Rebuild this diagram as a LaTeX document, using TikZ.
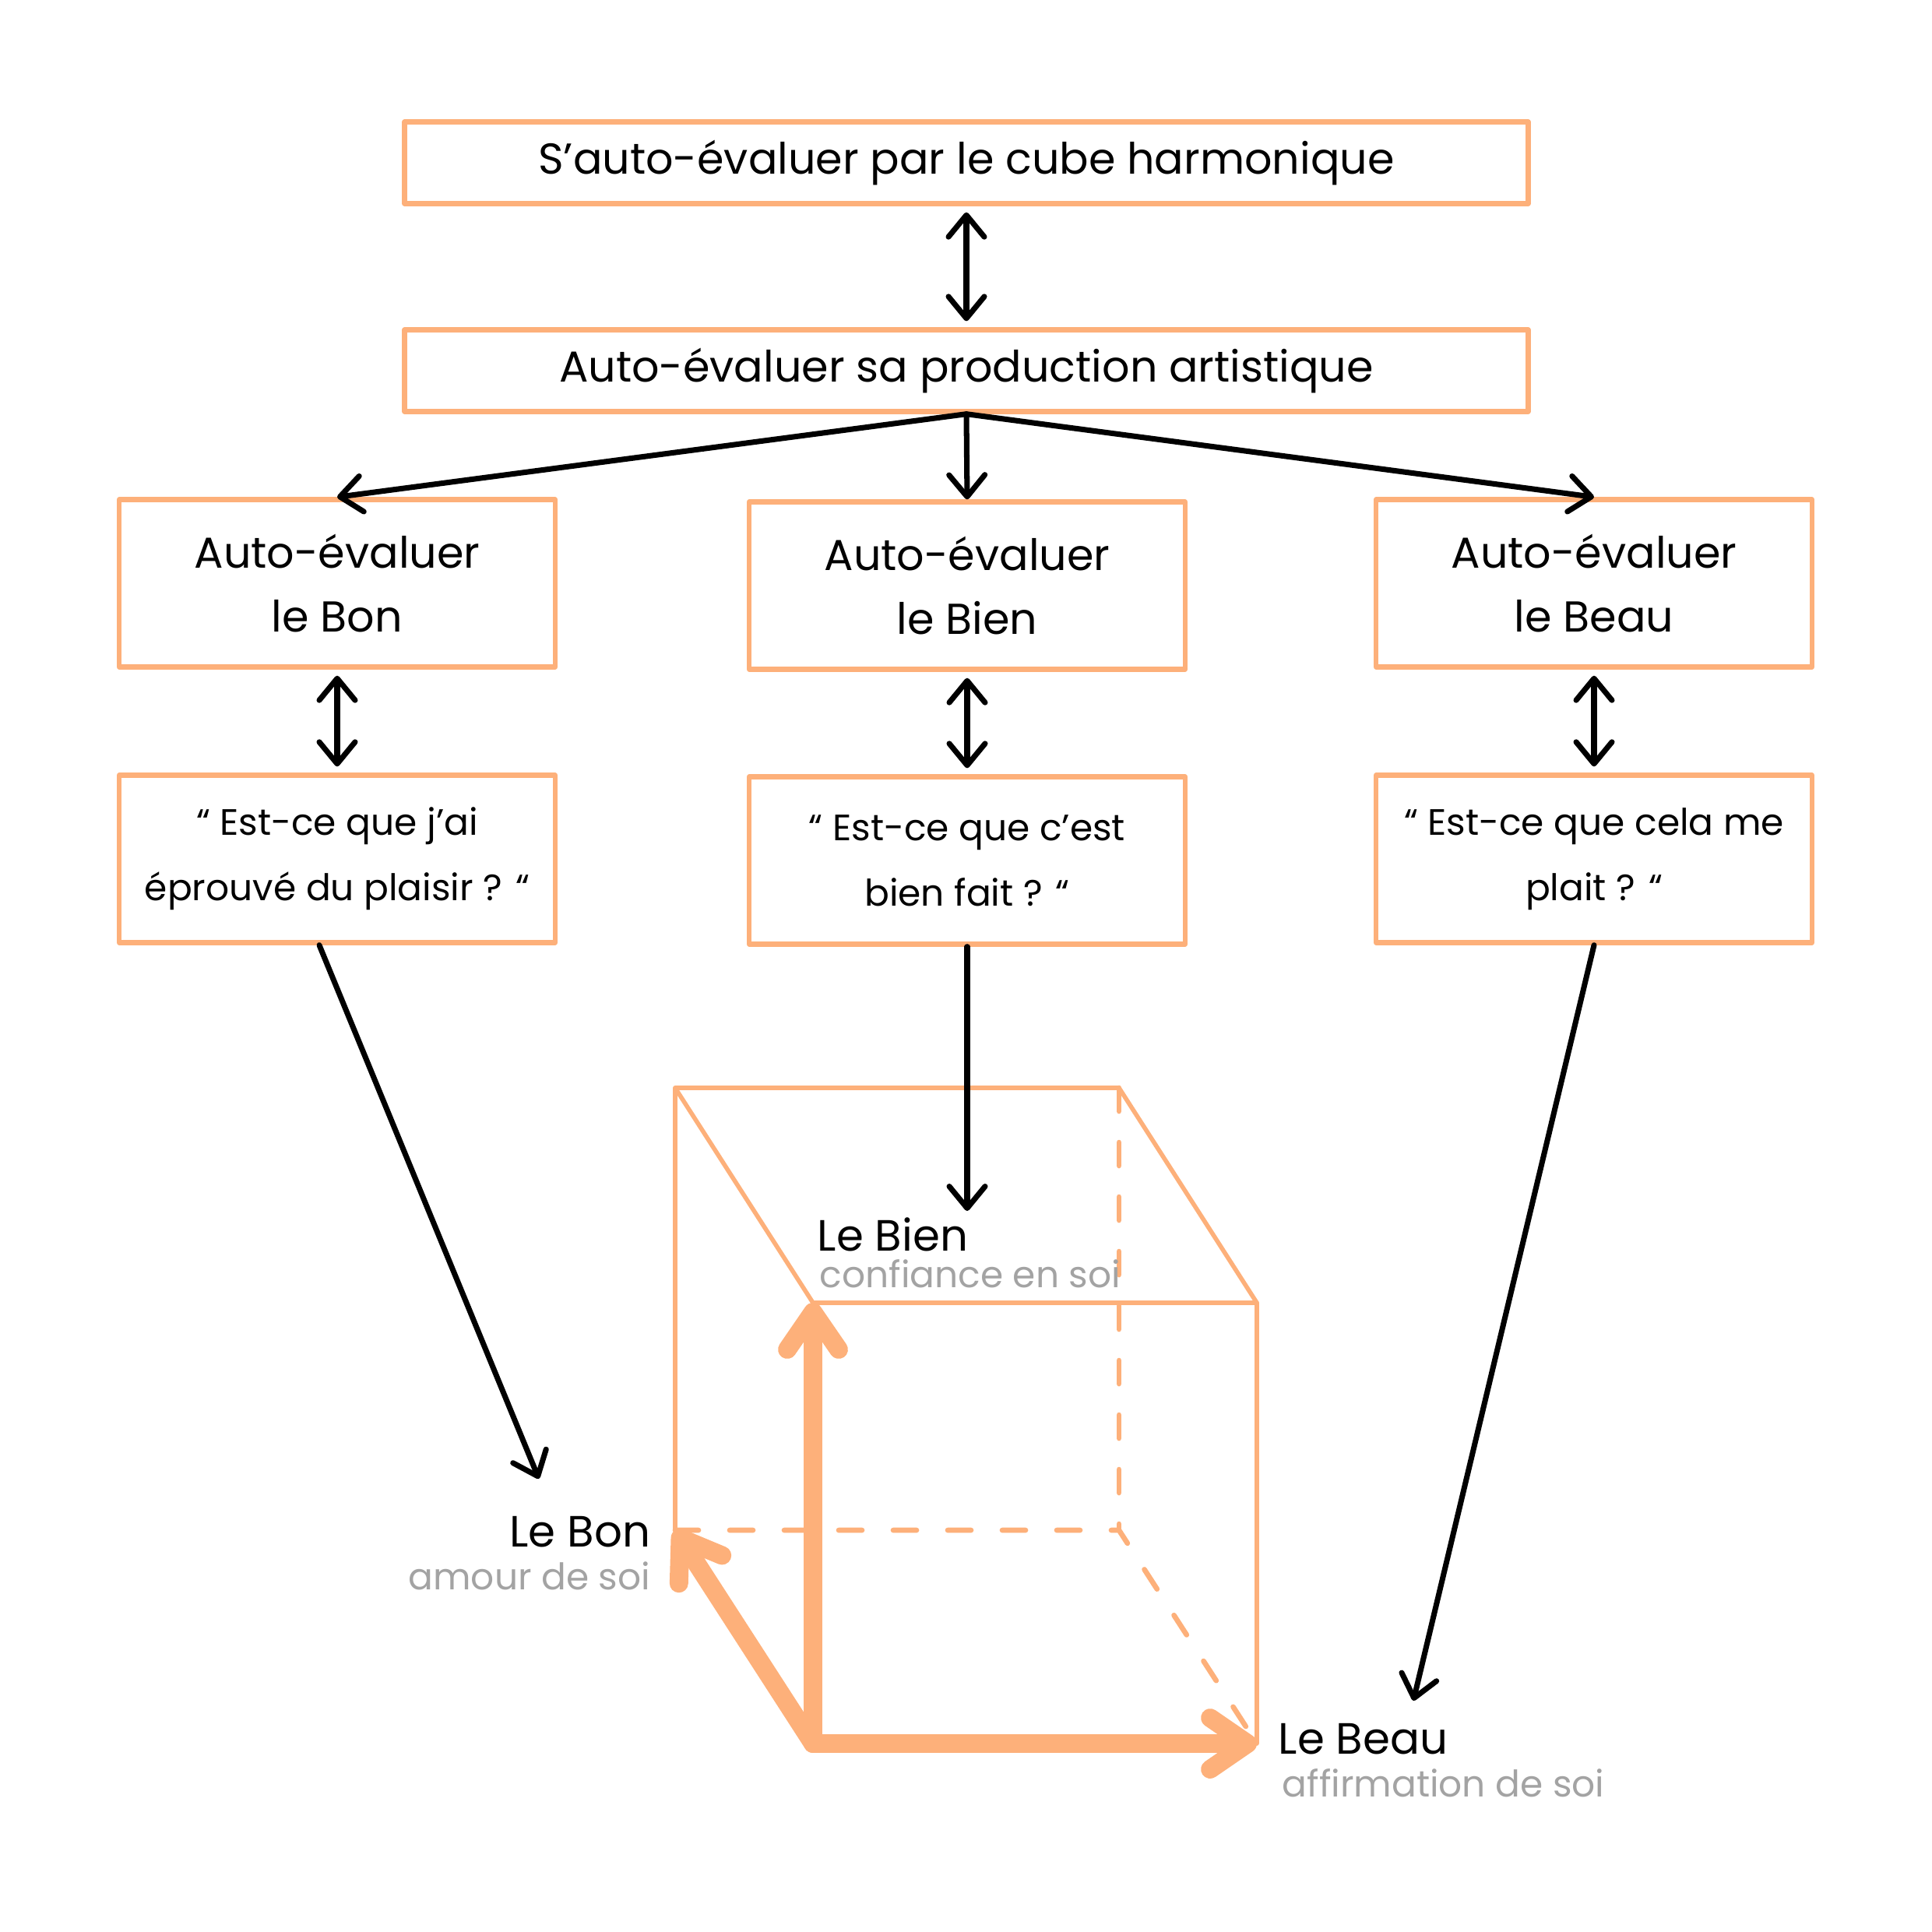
\documentclass[tikz,border=0pt]{standalone}
\usepackage{fontspec}
\setmainfont{Poppins}
\usetikzlibrary{positioning,arrows.meta}
\definecolor{peach}{HTML}{FDB07A}
\definecolor{softgray}{HTML}{A3A3A3}

\begin{document}
\begin{tikzpicture}[line cap=round, line join=round,
        widebox/.style={draw=peach, line width=1.8pt, minimum width=14.43cm, minimum height=1.05cm,
            font=\fontsize{15.8}{19}\selectfont},
        colbox/.style={draw=peach, line width=1.8pt, minimum width=5.6cm, minimum height=2.15cm,
            align=center, font=\fontsize{15.8}{23.4}\selectfont},
        qbox/.style={draw=peach, line width=1.8pt, minimum width=5.6cm, minimum height=2.15cm,
            align=center, font=\fontsize{13.4}{23.8}\selectfont},
        link/.style={line width=2pt, -{Straight Barb[length=2.8mm, width=4.6mm, round]}},
        twoway/.style={line width=2pt, {Straight Barb[length=2.8mm, width=4.6mm, round]}-{Straight Barb[length=2.8mm, width=4.6mm, round]},
            shorten <=0.08cm, shorten >=0.08cm},
        edgeline/.style={draw=peach, line width=1.6pt},
        hidden/.style={draw=peach, line width=1.9pt, dash pattern=on 0.3cm off 0.4cm},
        axisarrow/.style={draw=peach, line width=6.8pt, -{Straight Barb[length=4.8mm, width=6.6mm, round]}},
        axis/.style={inner sep=0pt, font=\fontsize{16}{19}\selectfont},
        note/.style={inner sep=0pt, text=softgray, font=\fontsize{13.4}{16}\selectfont}]
        \useasboundingbox (0,0) rectangle (24.81,-24.81);

        % top of the chart
        \node[widebox] (cube) at (12.41,-2.09) {S’auto-évaluer par le cube harmonique};
        \node[widebox] (prod) at (12.41,-4.76) {Auto-évaluer sa production artistique};
        \draw[twoway] (cube.south) -- (prod.north);

        % the three values
        \node[colbox] (bon)  at ( 4.33,-7.49) {Auto-évaluer\\le Bon};
        \node[colbox] (bien) at (12.42,-7.52) {Auto-évaluer\\le Bien};
        \node[colbox] (beau) at (20.47,-7.49) {Auto-évaluer\\le Beau};
        \draw[link] (prod.south) -- (bon.north);
        \draw[link] (prod.south) -- (bien.north);
        \draw[link] (prod.south) -- (beau.north);

        % the three questions
        \node[qbox] (qbon)  at ( 4.33,-11.03) {“ Est-ce que j’ai\\éprouvé du plaisir ? “};
        \node[qbox] (qbien) at (12.42,-11.05) {“ Est-ce que c’est\\bien fait ? “};
        \node[qbox] (qbeau) at (20.47,-11.03) {“ Est-ce que cela me\\plait ? “};
        \draw[twoway] (bon.south) -- (qbon.north);
        \draw[twoway] (bien.south) -- (qbien.north);
        \draw[twoway] (beau.south) -- (qbeau.north);

        % cube corners
        \coordinate (btl) at ( 8.67,-13.97);
        \coordinate (btr) at (14.37,-13.97);
        \coordinate (ftl) at (10.44,-16.73);
        \coordinate (ftr) at (16.14,-16.73);
        \coordinate (bbl) at ( 8.67,-19.65);
        \coordinate (bbr) at (14.37,-19.65);
        \coordinate (fbl) at (10.44,-22.39);
        \coordinate (fbr) at (16.14,-22.39);

        % cube edges
        \draw[edgeline] (bbl) -- (btl) -- (btr) -- (ftr) -- (fbr);
        \draw[edgeline] (btl) -- (ftl) -- (ftr);
        \draw[hidden] (btr) -- (bbr);
        \draw[hidden] (bbl) -- (bbr) -- (fbr);

        % axes of the cube
        \draw[axisarrow] (fbl) -- (ftl);
        \draw[axisarrow] (fbl) -- (fbr);
        \draw[axisarrow] (fbl) -- (bbl);

        % axis labels
        \node[axis, anchor=base west] (lbien) at (10.49,-16.06) {Le Bien};
        \node[note, anchor=base west] (nbien) at (10.52,-16.53) {confiance en soi};
        \node[axis, anchor=base east] (lbon) at (8.36,-19.86) {Le Bon};
        \node[note, anchor=base east] (nbon) at (8.36,-20.41) {amour de soi};
        \node[axis, anchor=base west] (lbeau) at (16.41,-22.52) {Le Beau};
        \node[note, anchor=base west] (nbeau) at (16.46,-23.07) {affirmation de soi};

        % from the questions down to the cube
        \coordinate (tobon)  at ( 6.92,-18.99);
        \coordinate (tobien) at (12.42,-15.55);
        \coordinate (tobeau) at (18.15,-21.84);
        \draw[link] ([xshift=-0.23cm]qbon.south) -- (tobon);
        \draw[link] (qbien.south) -- (tobien);
        \draw[link] (qbeau.south) -- (tobeau);
    \end{tikzpicture}
\end{document}
